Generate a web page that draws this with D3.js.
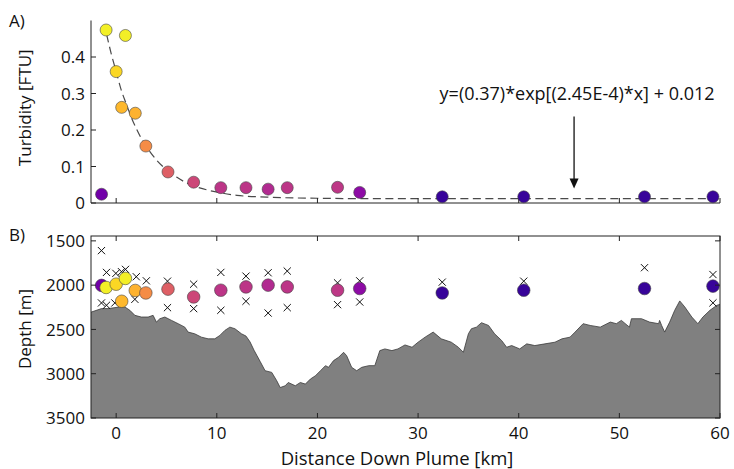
<!DOCTYPE html>
<html><head><meta charset="utf-8">
<script src="https://cdn.jsdelivr.net/npm/d3@7"></script>
<style>body{margin:0;background:#fff}svg{display:block}text{font-family:"Open Sans",sans-serif;fill:#111}</style>
</head><body>
<script>
// ---------- data ----------
const stationKm    = [-1.45, -1.0, 0.0, 0.92, 0.55, 1.9, 2.95, 5.15, 7.7, 10.4, 12.9, 15.1, 17.0, 22.0, 24.2, 32.4, 40.5, 52.5, 59.3];
const turbidity    = [0.024, 0.474, 0.36, 0.459, 0.262, 0.246, 0.156, 0.085, 0.057, 0.042, 0.042, 0.038, 0.042, 0.043, 0.029, 0.017, 0.017, 0.017, 0.017];
const stationDepth = [2003, 2026, 1989, 1924, 2182, 2060, 2088, 2045, 2133, 2057, 2020, 2000, 2020, 2057, 2038, 2088, 2057, 2038, 2011];
const crossKm      = [-1.46, -0.96, -0.03, 0.53, 0.93, 2.0, 3.0, 5.1, 7.7, 10.4, 12.9, 15.1, 17.0, 22.0, 24.2, 32.4, 40.5, 52.5, 59.3,
                      -1.46, -0.96, -0.13, 1.86, 5.1, 7.7, 10.4, 12.9, 15.1, 17.0, 22.0, 24.2, 59.3];
const crossDepth   = [1610, 1856, 1867, 1848, 1822, 1905, 1951, 1955, 1989, 1856, 1898, 1860, 1841, 1974, 1951, 1966, 1955, 1803, 1880,
                      2201, 2227, 2201, 2160, 2254, 2265, 2284, 2182, 2315, 2254, 2220, 2190, 2200];
// dashed exponential fit
const fitKm  = [-0.95, -0.5, 0, 0.5, 1, 1.5, 2, 2.5, 3, 4, 5, 6, 7, 8, 10, 12, 15, 20, 25, 30, 40, 50, 60];
const fitVal = [0.462, 0.41, 0.36, 0.31, 0.272, 0.235, 0.204, 0.177, 0.155, 0.118, 0.091, 0.071, 0.055, 0.044, 0.030, 0.021, 0.016, 0.013, 0.012, 0.012, 0.012, 0.012, 0.012];
// seafloor profile (km, depth m)
const floorKm = [-2.6,-2.45,-1.46,-0.8,0.36,0.86,1.36,1.86,2.5,3.18,3.67,4.0,4.34,4.84,5.5,6.16,6.82,7.15,7.8,8.47,9.14,9.8,10.3,10.8,11.3,11.8,12.45,12.9,13.3,13.7,14.3,14.8,15.46,15.96,16.3,16.8,17.1,17.8,18.3,18.8,19.3,19.8,20.3,20.8,21.1,21.6,22.1,22.6,22.9,23.4,23.9,24.4,25.1,25.7,26.2,26.7,27.4,28.0,28.7,29.4,30.0,30.7,31.5,32.3,33.3,34.0,34.5,35.0,35.3,35.8,36.3,37.0,37.6,38.3,38.8,39.3,40.1,40.8,41.6,42.6,43.6,44.3,45.1,45.6,46.4,47.1,48.1,49.1,49.7,50.2,51.0,51.2,52.2,53.0,53.9,54.0,54.2,54.5,55.0,55.5,56.0,56.5,57.2,57.8,58.3,59.0,59.7,60.3];
const floorDepth = [2310,2303,2265,2265,2246,2246,2284,2341,2360,2360,2341,2417,2379,2360,2398,2435,2474,2530,2549,2587,2606,2606,2568,2511,2474,2492,2549,2575,2640,2735,2860,2966,2985,3080,3156,3136,3099,3136,3099,3117,3060,3023,2966,2909,2928,2852,2815,2758,2796,2928,2966,2928,2909,2909,2739,2720,2739,2720,2675,2701,2644,2587,2530,2606,2644,2701,2758,2549,2492,2474,2424,2455,2549,2625,2701,2682,2720,2663,2682,2663,2644,2606,2587,2530,2435,2455,2474,2417,2435,2398,2474,2379,2379,2417,2435,2398,2455,2530,2417,2284,2178,2246,2360,2435,2360,2284,2227,2208];
const xTicks = [0, 10, 20, 30, 40, 50, 60];
const turbTicks = [0, 0.1, 0.2, 0.3, 0.4];
const depthTicks = [1500, 2000, 2500, 3000, 3500];
const equationText = "y=(0.37)*exp[(2.45E-4)*x] + 0.012";
const arrowKm = 45.5, arrowFrom = 0.237, arrowTo = 0.04;
// colour stops: turbidity -> position on plasma colormap
const colorStops = [0.017, 0.042, 0.085, 0.47];
const colorPos   = [0.08, 0.44, 0.585, 0.98];

// ---------- layout ----------
const W = 734, H = 469;
const L = 91, R = 720;
const topA = 20.5, botA = 203;
const topB = 236, botB = 418;
const FS = 17;

const svg = d3.select("body").append("svg").attr("width", W).attr("height", H);
svg.append("rect").attr("width", W).attr("height", H).attr("fill", "#fff");

const x = d3.scaleLinear().domain([-2.5, 60]).range([L, R]);
const yA = d3.scaleLinear().domain([0, 0.5]).range([botA, topA]);
const yB = d3.scaleLinear().domain([1445, 3500]).range([topB, botB]);
const tpos = d3.scaleLog().domain(colorStops).range(colorPos).clamp(true);
const color = v => d3.interpolatePlasma(tpos(v));

// ---------- Panel A ----------
const gA = svg.append("g");
gA.append("path")
  .datum(fitKm.map((k, i) => [k, fitVal[i]]))
  .attr("fill", "none").attr("stroke", "#4a4a4a").attr("stroke-width", 1.2)
  .attr("stroke-dasharray", "8,4.5")
  .attr("d", d3.line().x(d => x(d[0])).y(d => yA(d[1])).curve(d3.curveMonotoneX));
const axA = gA.append("g").attr("stroke", "#222").attr("stroke-width", 1);
axA.append("line").attr("x1", L).attr("x2", L).attr("y1", topA).attr("y2", botA);
axA.append("line").attr("x1", L).attr("x2", R).attr("y1", botA).attr("y2", botA);
xTicks.forEach(t => axA.append("line").attr("x1", x(t)).attr("x2", x(t)).attr("y1", botA).attr("y2", botA - 5));
turbTicks.forEach(t => axA.append("line").attr("x1", L).attr("x2", L + 5).attr("y1", yA(t)).attr("y2", yA(t)));
turbTicks.forEach(t => gA.append("text").attr("x", L - 6).attr("y", yA(t)).attr("dy", "0.36em")
  .attr("text-anchor", "end").attr("font-size", FS).text(t === 0 ? "0" : d3.format(".1f")(t)));
gA.selectAll("circle.a").data(stationKm.map((k, i) => i)).join("circle")
  .attr("cx", i => x(stationKm[i])).attr("cy", i => yA(turbidity[i])).attr("r", 6)
  .attr("fill", i => color(turbidity[i])).attr("stroke", "#444").attr("stroke-width", 0.6);
gA.append("text").attr("x", x(arrowKm) + 3).attr("y", yA(0.282)).attr("text-anchor", "middle")
  .attr("font-size", 18).text(equationText);
gA.append("line").attr("x1", x(arrowKm)).attr("x2", x(arrowKm)).attr("y1", yA(arrowFrom)).attr("y2", yA(arrowTo) - 6)
  .attr("stroke", "#111").attr("stroke-width", 1.3);
gA.append("path").attr("fill", "#111")
  .attr("d", `M${x(arrowKm) - 4.5},${yA(arrowTo) - 10} L${x(arrowKm) + 4.5},${yA(arrowTo) - 10} L${x(arrowKm)},${yA(arrowTo)} Z`);
svg.append("text").attr("x", 9).attr("y", 27).attr("font-size", 17).text("A)");
svg.append("text").attr("transform", `translate(25,${(topA + botA) / 2 - 4}) rotate(-90)`).attr("dy", "0.36em")
  .attr("text-anchor", "middle").attr("font-size", FS).text("Turbidity [FTU]");

// ---------- Panel B ----------
const gB = svg.append("g");
gB.append("clipPath").attr("id", "clipB").append("rect").attr("x", L).attr("y", topB).attr("width", R - L).attr("height", botB - topB);
const floorData = floorKm.map((k, i) => [k, floorDepth[i]]);
gB.append("path").datum(floorData).attr("clip-path", "url(#clipB)")
  .attr("fill", "#808080").attr("stroke", "#3a3a3a").attr("stroke-width", 0.8)
  .attr("d", d3.area().x(d => x(d[0])).y0(botB + 5).y1(d => yB(d[1])));
gB.selectAll("path.x").data(crossKm.map((k, i) => i)).join("path")
  .attr("clip-path", "url(#clipB)")
  .attr("fill", "none").attr("stroke", "#111").attr("stroke-width", 1)
  .attr("d", i => { const cx = x(crossKm[i]), cy = yB(crossDepth[i]), s = 3.6;
    return `M${cx - s},${cy - s}L${cx + s},${cy + s}M${cx - s},${cy + s}L${cx + s},${cy - s}`; });
gB.selectAll("circle.b").data(stationKm.map((k, i) => i)).join("circle")
  .attr("cx", i => x(stationKm[i])).attr("cy", i => yB(stationDepth[i])).attr("r", 6.3)
  .attr("fill", i => color(turbidity[i])).attr("stroke", "#444").attr("stroke-width", 0.6);
const axB = gB.append("g").attr("stroke", "#222").attr("stroke-width", 1);
axB.append("rect").attr("x", L).attr("y", topB).attr("width", R - L).attr("height", botB - topB).attr("fill", "none");
xTicks.forEach(t => {
  axB.append("line").attr("x1", x(t)).attr("x2", x(t)).attr("y1", botB).attr("y2", botB - 5);
  axB.append("line").attr("x1", x(t)).attr("x2", x(t)).attr("y1", topB).attr("y2", topB + 5);
});
depthTicks.forEach(t => {
  axB.append("line").attr("x1", L).attr("x2", L + 5).attr("y1", yB(t)).attr("y2", yB(t));
  axB.append("line").attr("x1", R).attr("x2", R - 5).attr("y1", yB(t)).attr("y2", yB(t));
});
depthTicks.forEach(t => gB.append("text").attr("x", L - 6).attr("y", yB(t)).attr("dy", "0.36em")
  .attr("text-anchor", "end").attr("font-size", FS).text(t));
xTicks.forEach(t => gB.append("text").attr("x", x(t)).attr("y", botB + 21)
  .attr("text-anchor", "middle").attr("font-size", FS).text(t));
svg.append("text").attr("x", 9).attr("y", 241).attr("font-size", 17).text("B)");
svg.append("text").attr("transform", `translate(25,${(topB + botB) / 2 + 2}) rotate(-90)`).attr("dy", "0.36em")
  .attr("text-anchor", "middle").attr("font-size", FS).text("Depth [m]");
svg.append("text").attr("x", 397).attr("y", 465).attr("text-anchor", "middle").attr("font-size", 18.5)
  .text("Distance Down Plume [km]");
</script>
</body></html>
